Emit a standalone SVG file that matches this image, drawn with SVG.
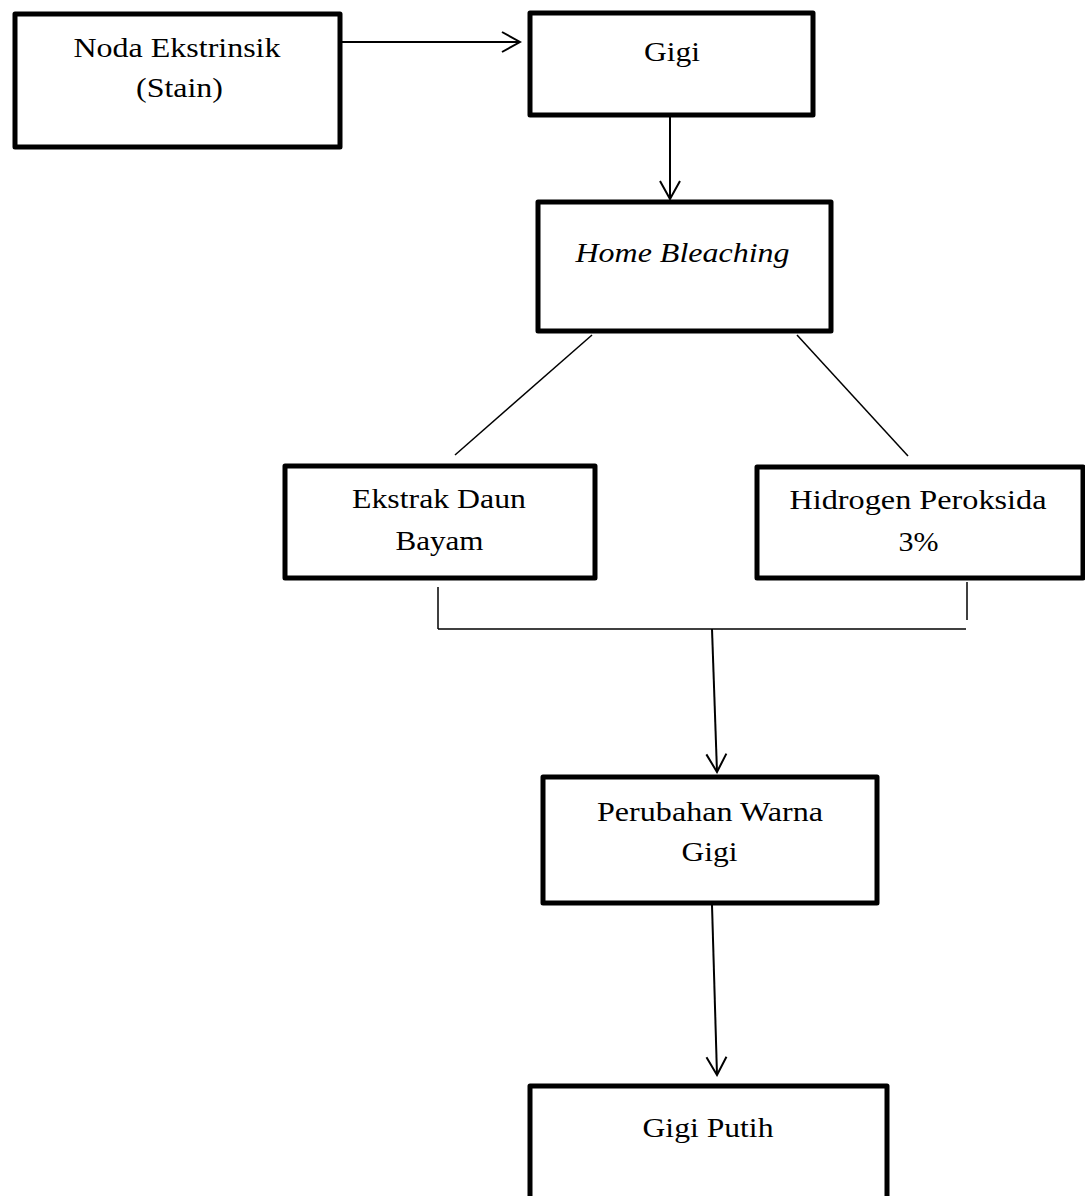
<svg xmlns="http://www.w3.org/2000/svg" width="1085" height="1196" viewBox="0 0 1085 1196">
<style>
.box{fill:#fff;stroke:#000;stroke-width:5;stroke-linejoin:round}
.t{font-family:'Liberation Serif','Times New Roman',Times,serif;font-size:28px;fill:#000;text-anchor:middle}
.i{font-style:italic}
.c{stroke:#000;fill:none;stroke-width:2}
.thin{stroke:#000;fill:none;stroke-width:1.5}
</style>
<defs>
<marker id="ah" markerUnits="userSpaceOnUse" viewBox="-20 -12 22 24" refX="0" refY="0" markerWidth="22" markerHeight="24" orient="auto">
<path d="M-18,-10 L0,0 L-18,10" fill="none" stroke="#000" stroke-width="2"/>
</marker>
</defs>
<rect width="1085" height="1196" fill="#fff"/>
<g id="connectors">
<line class="c" x1="340" y1="42" x2="520" y2="42" marker-end="url(#ah)"/>
<line class="c" x1="670" y1="112" x2="670" y2="199" marker-end="url(#ah)"/>
<line class="thin" x1="592" y1="335" x2="455" y2="455"/>
<line class="thin" x1="797" y1="335" x2="908" y2="456"/>
<line class="thin" x1="438" y1="587" x2="438" y2="629"/>
<line class="thin" x1="438" y1="629" x2="966" y2="629"/>
<line class="thin" x1="967" y1="582" x2="967" y2="620"/>
<line class="c" x1="712" y1="629" x2="717" y2="772" marker-end="url(#ah)"/>
<line class="c" x1="712" y1="905" x2="717" y2="1075" marker-end="url(#ah)"/>
</g>
<g id="node-noda">
<rect class="box" x="15" y="14" width="325" height="133"/>
<text class="t" x="177" y="56.5" textLength="207" lengthAdjust="spacingAndGlyphs">Noda Ekstrinsik</text>
<text class="t" x="179.5" y="97" textLength="87" lengthAdjust="spacingAndGlyphs">(Stain)</text>
</g>
<g id="node-gigi">
<rect class="box" x="530" y="13" width="283" height="102"/>
<text class="t" x="672" y="61" textLength="56" lengthAdjust="spacingAndGlyphs">Gigi</text>
</g>
<g id="node-home">
<rect class="box" x="538" y="202" width="293" height="129"/>
<text class="t i" x="682.5" y="262" textLength="214" lengthAdjust="spacingAndGlyphs">Home Bleaching</text>
</g>
<g id="node-ekstrak">
<rect class="box" x="285" y="466" width="310" height="112"/>
<text class="t" x="439" y="508" textLength="174" lengthAdjust="spacingAndGlyphs">Ekstrak Daun</text>
<text class="t" x="439.5" y="550" textLength="88" lengthAdjust="spacingAndGlyphs">Bayam</text>
</g>
<g id="node-hidrogen">
<rect class="box" x="757" y="467" width="326" height="111"/>
<text class="t" x="918" y="509" textLength="257" lengthAdjust="spacingAndGlyphs">Hidrogen Peroksida</text>
<text class="t" x="918.5" y="550.5" textLength="40" lengthAdjust="spacingAndGlyphs">3%</text>
</g>
<g id="node-perubahan">
<rect class="box" x="543" y="777" width="334" height="126"/>
<text class="t" x="710" y="820.5" textLength="226" lengthAdjust="spacingAndGlyphs">Perubahan Warna</text>
<text class="t" x="709.5" y="860.5" textLength="56" lengthAdjust="spacingAndGlyphs">Gigi</text>
</g>
<g id="node-putih">
<rect class="box" x="530" y="1086" width="357" height="130"/>
<text class="t" x="708" y="1137" textLength="131" lengthAdjust="spacingAndGlyphs">Gigi Putih</text>
</g>
</svg>
